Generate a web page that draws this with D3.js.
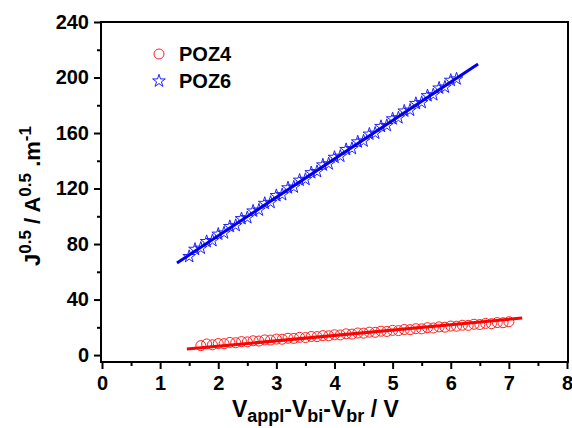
<!DOCTYPE html>
<html>
<head>
<meta charset="utf-8">
<script src="https://cdn.jsdelivr.net/npm/d3@7"></script>
<style>
  body { margin: 0; background: #fff; }
  text { font-family: "Liberation Sans", Arial, sans-serif; font-weight: bold; }
</style>
</head>
<body>
<script>
// data
var poz4X = [1.7,1.8,1.9,2.0,2.1,2.2,2.3,2.4,2.5,2.6,2.7,2.8,2.9,3.0,3.1,3.2,3.3,3.4,3.5,3.6,
             3.7,3.8,3.9,4.0,4.1,4.2,4.3,4.4,4.5,4.6,4.7,4.8,4.9,5.0,5.1,5.2,5.3,5.4,5.5,5.6,
             5.7,5.8,5.9,6.0,6.1,6.2,6.3,6.4,6.5,6.6,6.7,6.8,6.9,7.0];
var poz4Y = [6.8,8.0,7.4,8.3,8.2,9.1,8.9,9.7,9.5,10.3,10.1,10.9,10.8,11.5,11.4,12.1,12.0,12.8,12.6,13.4,
             13.3,14.0,13.9,14.6,14.5,15.3,15.1,15.9,15.8,16.5,16.4,17.2,17.0,17.8,17.6,18.4,18.3,19.0,18.9,19.7,
             19.5,20.3,20.1,20.9,20.8,21.5,21.4,22.2,22.0,22.8,22.6,23.4,23.3,24.0];

var poz6X = [1.5,1.6,1.7,1.8,1.9,2.0,2.1,2.2,2.3,2.4,2.5,2.6,2.7,2.8,2.9,3.0,3.1,3.2,3.3,3.4,
             3.5,3.6,3.7,3.8,3.9,4.0,4.1,4.2,4.3,4.4,4.5,4.6,4.7,4.8,4.9,5.0,5.1,5.2,5.3,5.4,
             5.5,5.6,5.7,5.8,5.9,6.0,6.1];
var poz6Y = [71.0,76.2,77.0,81.8,82.5,87.1,88.0,92.6,93.4,98.3,99.0,103.8,104.5,109.3,110.0,114.9,115.6,120.5,121.1,126.0,
             126.6,131.4,132.2,137.0,137.8,142.5,143.3,148.1,148.8,153.6,154.3,159.2,159.9,164.7,165.4,170.2,171.0,175.8,176.5,181.3,
             182.0,186.9,187.6,192.4,193.1,198.0,199.0];

// linear fits (end points)
var fit4X = [1.46, 7.23];
var fit4Y = [4.3, 26.7];
var fit6X = [1.29, 6.47];
var fit6Y = [66.3, 209.7];

var xTicks = [0,1,2,3,4,5,6,7,8];
var yTicks = [0,40,80,120,160,200,240];

var width = 572, height = 428;

var x = d3.scaleLinear().domain([0, 8]).range([102, 567]);
var y = d3.scaleLinear().domain([-5, 240]).range([362, 22]);

var svg = d3.select("body").append("svg")
    .attr("width", width)
    .attr("height", height);

// minor ticks
var xMinor = d3.axisBottom(x).tickValues(d3.range(0.5, 8, 1)).tickSize(4).tickFormat("");
var yMinor = d3.axisLeft(y).tickValues(d3.range(20, 240, 40)).tickSize(4).tickFormat("");

svg.append("g").attr("class", "axis").attr("transform", "translate(0,362)").call(xMinor);
svg.append("g").attr("class", "axis").attr("transform", "translate(101,0)").call(yMinor);

var xAxis = d3.axisBottom(x).tickValues(xTicks).tickSize(7).tickPadding(7);
var yAxis = d3.axisLeft(y).tickValues(yTicks).tickSize(7).tickPadding(5);

svg.append("g").attr("class", "axis").attr("transform", "translate(0,362)").call(xAxis);
svg.append("g").attr("class", "axis").attr("transform", "translate(101,0)").call(yAxis);

svg.selectAll(".axis .domain").remove();
svg.selectAll(".axis line").attr("stroke", "#000").attr("stroke-width", 2);
svg.selectAll(".axis text").attr("font-size", 20).attr("fill", "#000");

// frame
svg.append("rect")
    .attr("x", 101).attr("y", 22)
    .attr("width", 467).attr("height", 340)
    .attr("fill", "none").attr("stroke", "#000").attr("stroke-width", 2);

var line = d3.line().x(function(d){ return x(d[0]); }).y(function(d){ return y(d[1]); });

// POZ4 circles
svg.append("g").selectAll("circle")
    .data(d3.zip(poz4X, poz4Y))
    .enter().append("circle")
    .attr("cx", function(d){ return x(d[0]); })
    .attr("cy", function(d){ return y(d[1]); })
    .attr("r", 5)
    .attr("fill", "none")
    .attr("stroke", "#ff2020")
    .attr("stroke-width", 1);

// POZ6 stars
var star = d3.symbol().type(d3.symbolStar).size(50);
svg.append("g").selectAll("path")
    .data(d3.zip(poz6X, poz6Y))
    .enter().append("path")
    .attr("d", star)
    .attr("transform", function(d){ return "translate(" + x(d[0]) + "," + y(d[1]) + ")"; })
    .attr("fill", "none")
    .attr("stroke", "#2020ff")
    .attr("stroke-width", 1);

// fit lines
svg.append("path").datum(d3.zip(fit4X, fit4Y))
    .attr("d", line).attr("fill", "none").attr("stroke", "#ff0000").attr("stroke-width", 3);
svg.append("path").datum(d3.zip(fit6X, fit6Y))
    .attr("d", line).attr("fill", "none").attr("stroke", "#0000ee").attr("stroke-width", 3);

// legend
svg.append("circle").attr("cx", 159).attr("cy", 54).attr("r", 5)
    .attr("fill", "none").attr("stroke", "#ff2020").attr("stroke-width", 1);
svg.append("path").attr("d", star).attr("transform", "translate(159,81)")
    .attr("fill", "none").attr("stroke", "#2020ff").attr("stroke-width", 1);
svg.append("text").attr("x", 179).attr("y", 61).attr("font-size", 20).text("POZ4");
svg.append("text").attr("x", 179).attr("y", 88).attr("font-size", 20).text("POZ6");

// x title
var xt = svg.append("text").attr("x", 232).attr("y", 417)
    .attr("text-anchor", "start").attr("font-size", 23);
xt.append("tspan").text("V");
xt.append("tspan").attr("font-size", 18).attr("dy", 5).text("appl");
xt.append("tspan").attr("dy", -5).text("-V");
xt.append("tspan").attr("font-size", 18).attr("dy", 5).text("bi");
xt.append("tspan").attr("dy", -5).text("-V");
xt.append("tspan").attr("font-size", 18).attr("dy", 5).text("br");
xt.append("tspan").attr("dy", -5).text(" / V");

// y title
var yt = svg.append("text")
    .attr("transform", "translate(40,196) rotate(-90)")
    .attr("text-anchor", "middle").attr("font-size", 22);
yt.append("tspan").text("J");
yt.append("tspan").attr("font-size", 17).attr("dy", -9).text("0.5");
yt.append("tspan").attr("dy", 9).text(" / A");
yt.append("tspan").attr("font-size", 17).attr("dy", -9).text("0.5");
yt.append("tspan").attr("dy", 9).text(" .m");
yt.append("tspan").attr("font-size", 17).attr("dy", -9).text("-1");
</script>
</body>
</html>
